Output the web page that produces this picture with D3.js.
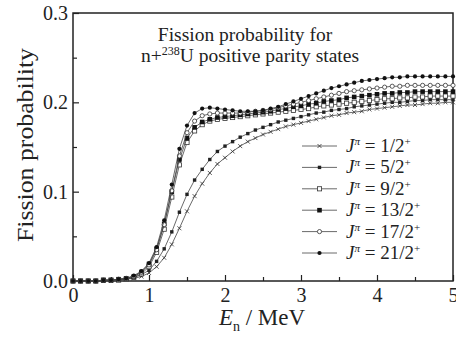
<!DOCTYPE html>
<html lang="en">
<head>
<meta charset="utf-8" />
<title>Fission probability</title>
<style>
  body { margin: 0; background: #fff; }
  svg text { font-family: "Liberation Serif", "Times New Roman", serif; fill: #222; }
</style>
</head>
<body>
<div id="chart"></div>
<script src="https://d3js.org/d3.v7.min.js"></script>
<script>

// neutron energy grid (MeV)
const energies = [0.0,0.1,0.2,0.3,0.4,0.5,0.6,0.7,0.8,0.9,
                  1.0,1.1,1.2,1.3,1.4,1.5,1.6,1.7,1.8,1.9,
                  2.0,2.1,2.2,2.3,2.4,2.5,2.6,2.7,2.8,2.9,
                  3.0,3.1,3.2,3.3,3.4,3.5,3.6,3.7,3.8,3.9,
                  4.0,4.1,4.2,4.3,4.4,4.5,4.6,4.7,4.8,4.9,5.0];

const labels = ["1/2", "5/2", "9/2", "13/2", "17/2", "21/2"];
const markers = ["cross", "smallsquare", "opensquare", "square", "opencircle", "circle"];

// fission probability per spin
const p1_2 = [0,0,0,0,0,0,0.001,0.002,0.003,0.005,
  0.009,0.016,0.026,0.041,0.059,0.078,0.095,0.109,0.121,0.131,
  0.138,0.145,0.151,0.156,0.160,0.164,0.167,0.170,0.173,0.175,
  0.177,0.179,0.181,0.183,0.185,0.186,0.188,0.189,0.190,0.192,
  0.193,0.194,0.195,0.196,0.197,0.197,0.198,0.199,0.199,0.200,0.200];
const p5_2 = [0,0,0,0,0,0.001,0.001,0.002,0.004,0.007,
  0.012,0.022,0.036,0.055,0.077,0.097,0.113,0.125,0.136,0.145,
  0.151,0.156,0.161,0.165,0.169,0.172,0.175,0.178,0.180,0.182,
  0.184,0.186,0.188,0.189,0.191,0.192,0.193,0.195,0.196,0.197,
  0.198,0.199,0.200,0.200,0.201,0.202,0.202,0.203,0.203,0.203,0.203];
const p9_2 = [0,0,0,0,0.001,0.001,0.001,0.002,0.004,0.008,
  0.016,0.032,0.058,0.094,0.130,0.155,0.168,0.175,0.179,0.181,
  0.182,0.183,0.184,0.185,0.186,0.187,0.188,0.189,0.190,0.191,
  0.192,0.193,0.195,0.196,0.197,0.198,0.199,0.200,0.201,0.202,
  0.203,0.204,0.204,0.205,0.205,0.206,0.206,0.207,0.207,0.207,0.207];
const p13_2 = [0,0,0,0,0.001,0.001,0.002,0.003,0.005,0.010,
  0.019,0.036,0.064,0.100,0.136,0.160,0.172,0.178,0.181,0.183,
  0.184,0.185,0.186,0.187,0.188,0.189,0.190,0.192,0.193,0.195,
  0.196,0.198,0.199,0.201,0.202,0.203,0.205,0.206,0.207,0.208,
  0.209,0.210,0.210,0.211,0.211,0.212,0.212,0.212,0.212,0.212,0.212];
const p17_2 = [0,0,0,0,0.001,0.001,0.002,0.003,0.005,0.010,
  0.018,0.035,0.063,0.101,0.140,0.166,0.179,0.185,0.187,0.188,
  0.188,0.188,0.188,0.189,0.190,0.191,0.192,0.194,0.196,0.198,
  0.200,0.202,0.204,0.206,0.208,0.210,0.212,0.213,0.214,0.215,
  0.216,0.217,0.218,0.218,0.219,0.219,0.219,0.219,0.219,0.219,0.219];
const p21_2 = [0,0,0,0,0.001,0.001,0.002,0.003,0.006,0.011,
  0.020,0.038,0.068,0.108,0.148,0.174,0.188,0.193,0.194,0.193,
  0.192,0.191,0.190,0.190,0.190,0.191,0.193,0.195,0.198,0.201,
  0.204,0.207,0.210,0.213,0.216,0.218,0.220,0.222,0.224,0.225,
  0.226,0.227,0.228,0.228,0.229,0.229,0.229,0.229,0.229,0.229,0.229];

const seriesValues = [p1_2, p5_2, p9_2, p13_2, p17_2, p21_2];

const xTicks = [0, 1, 2, 3, 4, 5];
const yTicks = [0, 0.1, 0.2, 0.3];

const width = 456, height = 342;
const mLeft = 73, mRight = 453, mTop = 13, mBottom = 281;

const svg = d3.select("#chart").append("svg")
  .attr("width", width)
  .attr("height", height);

const x = d3.scaleLinear().domain([0, 5]).range([mLeft, mRight]);
const y = d3.scaleLinear().domain([0, 0.3]).range([mBottom, mTop]);

// inward ticks, major + minor
svg.append("g").attr("transform", "translate(0," + mBottom + ")")
  .call(d3.axisBottom(x).tickValues(xTicks).tickSize(-6).tickPadding(7).tickFormat(d3.format("d")));
svg.append("g").attr("transform", "translate(0," + mBottom + ")")
  .call(d3.axisBottom(x).tickValues([0.5,1.5,2.5,3.5,4.5]).tickSize(-4).tickFormat(""));
svg.append("g").attr("transform", "translate(" + mLeft + ",0)")
  .call(d3.axisLeft(y).tickValues(yTicks).tickSize(-6).tickPadding(5).tickFormat(d3.format(".1f")));
svg.append("g").attr("transform", "translate(" + mLeft + ",0)")
  .call(d3.axisLeft(y).tickValues([0.05,0.15,0.25]).tickSize(-4).tickFormat(""));

svg.selectAll(".domain").remove();
svg.selectAll(".tick line").attr("stroke", "#222").attr("stroke-width", 1.2);
svg.selectAll(".tick text").attr("font-size", 20).attr("fill", "#222")
  .attr("font-family", "Liberation Serif, serif");

// frame
svg.append("rect")
  .attr("x", mLeft).attr("y", mTop)
  .attr("width", mRight - mLeft).attr("height", mBottom - mTop)
  .attr("fill", "none").attr("stroke", "#222").attr("stroke-width", 1.5);

// curves
const line = d3.line().x((d, i) => x(energies[i])).y(d => y(d));
const plot = svg.append("g");

function drawMarker(g, type, cx, cy) {
  if (type === "cross") {
    g.append("path").attr("d", `M${cx-2},${cy-2}L${cx+2},${cy+2}M${cx-2},${cy+2}L${cx+2},${cy-2}`)
      .attr("stroke", "#333").attr("stroke-width", 0.8);
  } else if (type === "smallsquare") {
    g.append("rect").attr("x", cx-1.7).attr("y", cy-1.7).attr("width", 3.4).attr("height", 3.4).attr("fill", "#222");
  } else if (type === "opensquare") {
    g.append("rect").attr("x", cx-2.1).attr("y", cy-2.1).attr("width", 4.2).attr("height", 4.2)
      .attr("fill", "#fff").attr("stroke", "#333").attr("stroke-width", 0.8);
  } else if (type === "square") {
    g.append("rect").attr("x", cx-2.3).attr("y", cy-2.3).attr("width", 4.6).attr("height", 4.6).attr("fill", "#111");
  } else if (type === "opencircle") {
    g.append("circle").attr("cx", cx).attr("cy", cy).attr("r", 2.1)
      .attr("fill", "#fff").attr("stroke", "#333").attr("stroke-width", 0.8);
  } else {
    g.append("circle").attr("cx", cx).attr("cy", cy).attr("r", 2.1).attr("fill", "#111");
  }
}

seriesValues.forEach((vals, k) => {
  plot.append("path").datum(vals)
    .attr("d", line)
    .attr("fill", "none")
    .attr("stroke", "#444")
    .attr("stroke-width", 0.8);
  const g = plot.append("g");
  vals.forEach((v, i) => drawMarker(g, markers[k], x(energies[i]), y(v)));
});

// legend
const legend = svg.append("g");
labels.forEach((lab, k) => {
  const ly = 146 + k * 21.4;
  legend.append("line").attr("x1", 302).attr("x2", 337).attr("y1", ly).attr("y2", ly)
    .attr("stroke", "#444").attr("stroke-width", 0.8);
  drawMarker(legend, markers[k], 319.5, ly);
  const t = legend.append("text").attr("x", 346).attr("y", ly + 6).attr("font-size", 19);
  t.append("tspan").attr("font-style", "italic").text("J");
  t.append("tspan").attr("font-size", 11).attr("dy", -7).attr("font-style", "italic").text("π");
  t.append("tspan").attr("dy", 7).text(" = " + lab);
  t.append("tspan").attr("font-size", 11).attr("dy", -7).text("+");
});

// title
svg.append("text").attr("x", 245).attr("y", 41).attr("text-anchor", "middle")
  .attr("font-size", 19.5).text("Fission probability for");
const t2 = svg.append("text").attr("x", 250).attr("y", 61.5).attr("text-anchor", "middle")
  .attr("font-size", 19.5);
t2.append("tspan").text("n+");
t2.append("tspan").attr("font-size", 12).attr("dy", -7).text("238");
t2.append("tspan").attr("dy", 7).text("U positive parity states");

// axis titles
svg.append("text")
  .attr("transform", "translate(33,145) rotate(-90)")
  .attr("text-anchor", "middle").attr("font-size", 24)
  .attr("textLength", 194).attr("lengthAdjust", "spacingAndGlyphs")
  .text("Fission probability");
const xl = svg.append("text").attr("x", 262).attr("y", 325).attr("text-anchor", "middle").attr("font-size", 23);
xl.append("tspan").attr("font-style", "italic").text("E");
xl.append("tspan").attr("font-size", 14).attr("dy", 6).text("n");
xl.append("tspan").attr("dy", -6).text(" / MeV");

</script>
</body>
</html>
